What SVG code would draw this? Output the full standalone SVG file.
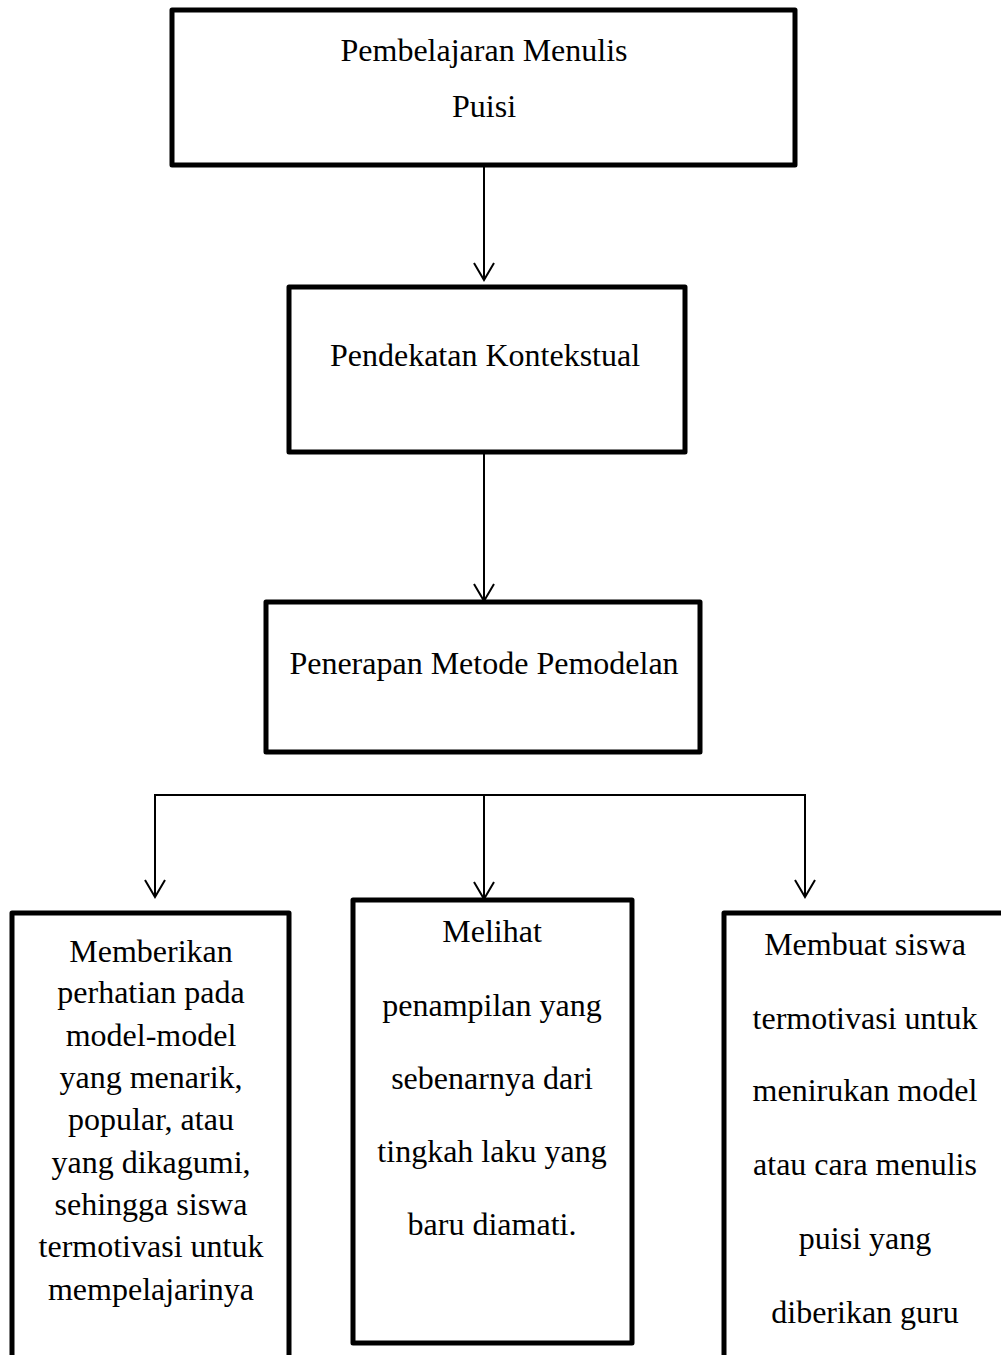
<svg xmlns="http://www.w3.org/2000/svg" width="1001" height="1355" viewBox="0 0 1001 1355">
<style>
.box{fill:#fff;stroke:#000;stroke-width:5;stroke-linejoin:round}
.t{font-family:"Liberation Serif","Times New Roman",serif;font-size:32px;fill:#000;text-anchor:middle}
.c{fill:none;stroke:#000;stroke-width:2}
</style>
<defs>
<marker id="ah" markerWidth="24" markerHeight="24" refX="20" refY="12" orient="auto" markerUnits="userSpaceOnUse" viewBox="0 0 24 24">
<path d="M3,2 L20,12 L3,22" fill="none" stroke="#000" stroke-width="2"/>
</marker>
</defs>
<rect width="1001" height="1355" fill="#fff"/>
<g id="connectors">
<line class="c" x1="484" y1="166" x2="484" y2="280" marker-end="url(#ah)"/>
<line class="c" x1="484" y1="452" x2="484" y2="601" marker-end="url(#ah)"/>
<polyline class="c" points="155,880 155,795 805,795 805,880"/>
<line class="c" x1="484" y1="795" x2="484" y2="880"/>
<line class="c" x1="155" y1="878" x2="155" y2="897" marker-end="url(#ah)"/>
<line class="c" x1="484" y1="878" x2="484" y2="899" marker-end="url(#ah)"/>
<line class="c" x1="805" y1="878" x2="805" y2="897" marker-end="url(#ah)"/>
</g>
<g id="node1">
<rect class="box" x="172" y="10" width="623" height="155"/>
<text class="t" x="484" y="61">Pembelajaran Menulis</text>
<text class="t" x="484" y="117">Puisi</text>
</g>
<g id="node2">
<rect class="box" x="289" y="287" width="396" height="165"/>
<text class="t" x="485" y="366">Pendekatan Kontekstual</text>
</g>
<g id="node3">
<rect class="box" x="266" y="602" width="434" height="150"/>
<text class="t" x="484" y="674">Penerapan Metode Pemodelan</text>
</g>
<g id="node4">
<rect class="box" x="12" y="913" width="277" height="480"/>
<text class="t" x="151" y="962">Memberikan</text>
<text class="t" x="151" y="1003">perhatian pada</text>
<text class="t" x="151" y="1046">model-model</text>
<text class="t" x="151" y="1088">yang menarik,</text>
<text class="t" x="151" y="1130">popular, atau</text>
<text class="t" x="151" y="1173">yang dikagumi,</text>
<text class="t" x="151" y="1215">sehingga siswa</text>
<text class="t" x="151" y="1257">termotivasi untuk</text>
<text class="t" x="151" y="1300">mempelajarinya</text>
</g>
<g id="node5">
<rect class="box" x="353" y="900" width="279" height="443"/>
<text class="t" x="492" y="942">Melihat</text>
<text class="t" x="492" y="1016">penampilan yang</text>
<text class="t" x="492" y="1089">sebenarnya dari</text>
<text class="t" x="492" y="1162">tingkah laku yang</text>
<text class="t" x="492" y="1235">baru diamati.</text>
</g>
<g id="node6">
<rect class="box" x="724" y="913" width="320" height="480"/>
<text class="t" x="865" y="955">Membuat siswa</text>
<text class="t" x="865" y="1029">termotivasi untuk</text>
<text class="t" x="865" y="1101">menirukan model</text>
<text class="t" x="865" y="1175">atau cara menulis</text>
<text class="t" x="865" y="1249">puisi yang</text>
<text class="t" x="865" y="1323">diberikan guru</text>
</g>
</svg>
